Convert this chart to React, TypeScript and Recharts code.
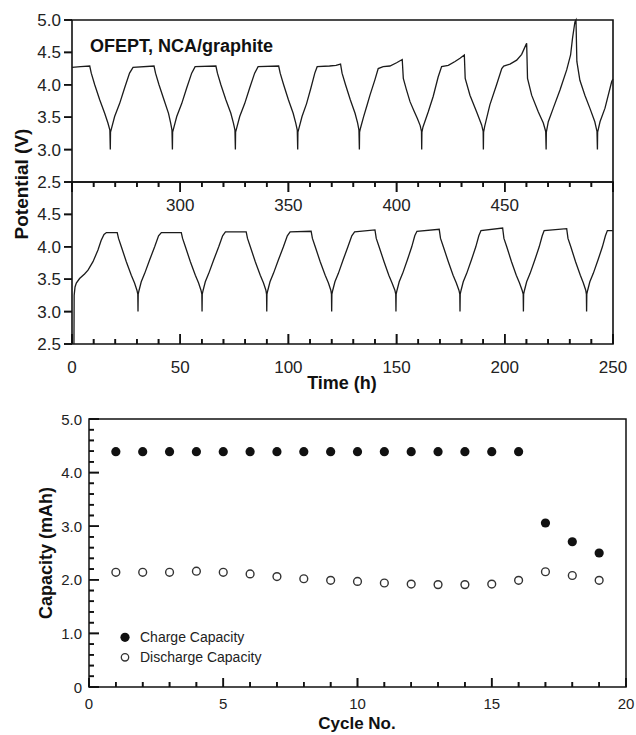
import React from 'react';
import { ComposedChart, Line, XAxis, YAxis, ScatterChart, Scatter, Legend, ReferenceArea } from 'recharts';

type Pt = [number, number];

const FONT = "'Liberation Sans', Arial, Helvetica, sans-serif";
const INK = '#111';
const TEXT = '#222';

// ---------- Upper potential panel (time 250-500 h) ----------
const upperCycle1: Pt[] = [[250, 4.27], [254, 4.28], [258.2, 4.29], [258.9, 4.18], [260.5, 4.0], [262.8, 3.77], [265.1, 3.56], [266.6, 3.41], [267.5, 3.3], [267.7, 3.0]];
const upperCycle2: Pt[] = [[267.8, 3.27], [268.2, 3.32], [269.7, 3.51], [272.0, 3.71], [274.3, 3.95], [276.6, 4.18], [278.2, 4.27], [287.9, 4.29], [288.6, 4.18], [290.2, 4.0], [292.5, 3.77], [294.6, 3.56], [295.6, 3.41], [296.2, 3.3], [296.4, 3.0]];
const upperCycle3: Pt[] = [[296.5, 3.27], [296.9, 3.32], [298.4, 3.51], [300.7, 3.71], [303.0, 3.95], [305.3, 4.18], [306.9, 4.28], [316.5, 4.29], [317.2, 4.18], [318.8, 4.0], [321.1, 3.77], [323.4, 3.56], [324.6, 3.41], [325.3, 3.3], [325.5, 3.0]];
const upperCycle4: Pt[] = [[325.6, 3.27], [326.0, 3.32], [327.5, 3.51], [329.8, 3.71], [332.1, 3.95], [334.4, 4.18], [336.0, 4.28], [345.5, 4.29], [346.2, 4.18], [347.8, 4.0], [350.0, 3.77], [352.2, 3.56], [353.4, 3.41], [354.1, 3.3], [354.3, 3.0]];
const upperCycle5: Pt[] = [[354.4, 3.27], [354.8, 3.32], [356.3, 3.51], [358.4, 3.71], [360.4, 3.95], [362.2, 4.18], [363.3, 4.28], [369.0, 4.29], [372.0, 4.3], [374.1, 4.32], [374.8, 4.18], [376.4, 4.0], [378.6, 3.77], [380.8, 3.56], [382.0, 3.41], [382.6, 3.3], [382.8, 3.0]];
const upperCycle6: Pt[] = [[382.9, 3.27], [383.3, 3.33], [384.7, 3.5], [386.3, 3.68], [387.7, 3.84], [390.0, 4.08], [391.5, 4.25], [393.8, 4.28], [396.9, 4.29], [400.0, 4.34], [402.6, 4.39], [403.1, 4.1], [404.5, 3.93], [406.2, 3.74], [408.0, 3.6], [409.6, 3.48], [410.9, 3.37], [411.5, 3.28], [411.6, 3.0]];
const upperCycle7: Pt[] = [[411.7, 3.27], [412.2, 3.35], [414.6, 3.58], [416.9, 3.82], [419.2, 4.12], [420.8, 4.28], [423.9, 4.3], [427.0, 4.36], [429.3, 4.41], [431.3, 4.46], [431.7, 4.1], [433.9, 3.84], [437.0, 3.58], [439.3, 3.38], [440.0, 3.28], [440.1, 3.0]];
const upperCycle8: Pt[] = [[440.2, 3.27], [440.7, 3.36], [443.1, 3.69], [446.2, 4.0], [448.6, 4.25], [449.5, 4.29], [452.4, 4.32], [455.5, 4.38], [457.8, 4.47], [459.8, 4.62], [460.1, 4.64], [460.5, 4.1], [462.4, 3.84], [465.5, 3.58], [467.8, 3.41], [468.9, 3.28], [469.1, 3.0]];
const upperCycle9: Pt[] = [[469.2, 3.27], [470.1, 3.43], [472.4, 3.64], [475.5, 3.92], [478.6, 4.23], [480.4, 4.46], [481.3, 4.72], [482.4, 4.97], [482.9, 5.0], [483.3, 4.36], [484.7, 4.07], [487.0, 3.84], [489.3, 3.64], [491.6, 3.43], [492.6, 3.28], [492.8, 3.0]];
const upperCycle10: Pt[] = [[492.9, 3.27], [494.0, 3.43], [496.3, 3.64], [499.4, 4.05], [500, 4.09]];

// ---------- Lower potential panel (time 0-250 h) ----------
const lowerCycle1: Pt[] = [[0.9, 2.5], [1.0, 3.25], [1.4, 3.38], [2.0, 3.44], [3.5, 3.51], [5.8, 3.58], [7.4, 3.64], [9.7, 3.77], [12.0, 3.95], [13.5, 4.1], [14.8, 4.19], [15.9, 4.22], [20.9, 4.22], [21.5, 4.13], [22.8, 4.0], [25.1, 3.77], [27.4, 3.56], [28.9, 3.44], [30.0, 3.33], [30.4, 3.27], [30.5, 3.0]];
const lowerCycle2: Pt[] = [[30.6, 3.27], [31.0, 3.33], [32.0, 3.46], [33.6, 3.59], [35.9, 3.8], [38.2, 4.0], [40.0, 4.17], [41.3, 4.22], [50.5, 4.22], [51.1, 4.13], [52.4, 4.0], [54.7, 3.77], [57.0, 3.56], [58.5, 3.44], [59.6, 3.33], [60.0, 3.27], [60.1, 3.0]];
const lowerCycle3: Pt[] = [[60.2, 3.27], [60.6, 3.33], [61.6, 3.46], [63.2, 3.59], [65.5, 3.8], [67.8, 4.0], [69.6, 4.17], [70.9, 4.23], [80.5, 4.23], [81.1, 4.13], [82.4, 4.0], [84.7, 3.77], [87.0, 3.56], [88.5, 3.44], [89.6, 3.33], [89.9, 3.27], [90.0, 3.0]];
const lowerCycle4: Pt[] = [[90.1, 3.27], [90.5, 3.33], [91.5, 3.46], [93.1, 3.59], [95.4, 3.8], [97.7, 4.0], [99.5, 4.17], [100.8, 4.23], [110.5, 4.24], [111.1, 4.13], [112.4, 4.0], [114.7, 3.77], [117.0, 3.56], [118.5, 3.44], [119.6, 3.33], [119.9, 3.27], [120.0, 3.0]];
const lowerCycle5: Pt[] = [[120.1, 3.27], [120.5, 3.33], [121.5, 3.46], [123.1, 3.59], [125.3, 3.8], [127.5, 4.0], [129.3, 4.17], [130.6, 4.23], [140.0, 4.26], [140.6, 4.13], [141.9, 4.0], [144.2, 3.77], [146.4, 3.56], [147.9, 3.44], [149.2, 3.33], [149.6, 3.27], [149.7, 3.0]];
const lowerCycle6: Pt[] = [[149.8, 3.27], [150.2, 3.33], [151.2, 3.46], [152.8, 3.59], [155.0, 3.8], [157.0, 4.0], [158.4, 4.17], [159.4, 4.24], [169.7, 4.27], [170.3, 4.13], [171.6, 4.0], [173.9, 3.77], [176.1, 3.56], [177.6, 3.44], [178.8, 3.33], [179.2, 3.27], [179.3, 3.0]];
const lowerCycle7: Pt[] = [[179.4, 3.27], [179.8, 3.33], [180.8, 3.46], [182.4, 3.59], [184.6, 3.8], [186.6, 4.0], [188.0, 4.17], [189.0, 4.25], [199.0, 4.29], [199.6, 4.13], [200.9, 4.0], [203.1, 3.77], [205.3, 3.56], [206.8, 3.44], [208.0, 3.33], [208.5, 3.27], [208.6, 3.0]];
const lowerCycle8: Pt[] = [[208.7, 3.27], [209.1, 3.33], [210.1, 3.46], [211.7, 3.59], [213.9, 3.8], [215.9, 4.0], [217.3, 4.17], [218.2, 4.25], [228.6, 4.28], [229.2, 4.13], [230.5, 4.0], [232.7, 3.77], [234.9, 3.56], [236.3, 3.44], [237.4, 3.33], [237.7, 3.27], [237.8, 3.0]];
const lowerCycle9: Pt[] = [[237.9, 3.27], [238.3, 3.33], [239.3, 3.46], [240.9, 3.59], [243.1, 3.8], [245.1, 4.0], [246.5, 4.17], [247.4, 4.25], [250, 4.25]];

// ---------- Capacity panel ----------
const cycles = [1, 2, 3, 4, 5, 6, 7, 8, 9, 10, 11, 12, 13, 14, 15, 16, 17, 18, 19];
const chargeCapacity = [4.39, 4.39, 4.39, 4.39, 4.39, 4.39, 4.39, 4.39, 4.39, 4.39, 4.39, 4.39, 4.39, 4.39, 4.39, 4.39, 3.06, 2.71, 2.5];
const dischargeCapacity = [2.14, 2.14, 2.14, 2.16, 2.14, 2.11, 2.06, 2.02, 1.99, 1.97, 1.94, 1.92, 1.91, 1.91, 1.92, 1.99, 2.15, 2.08, 1.99];

// ---------- Ticks ----------
const upperTimeTicks = [250, 260, 270, 280, 290, 300, 310, 320, 330, 340, 350, 360, 370, 380, 390, 400, 410, 420, 430, 440, 450, 460, 470, 480, 490, 500];
const upperTimeLabels = [300, 350, 400, 450];
const lowerTimeTicks = [0, 10, 20, 30, 40, 50, 60, 70, 80, 90, 100, 110, 120, 130, 140, 150, 160, 170, 180, 190, 200, 210, 220, 230, 240, 250];
const lowerTimeLabels = [0, 50, 100, 150, 200, 250];
const upperPotentialTicks = [2.5, 3.0, 3.5, 4.0, 4.5, 5.0];
const lowerPotentialTicks = [2.5, 3.0, 3.5, 4.0, 4.5];
const cycleTicks = [0, 1, 2, 3, 4, 5, 6, 7, 8, 9, 10, 11, 12, 13, 14, 15, 16, 17, 18, 19, 20];
const cycleLabels = [0, 5, 10, 15, 20];
const capacityTicks = [0, 0.2, 0.4, 0.6, 0.8, 1.0, 1.2, 1.4, 1.6, 1.8, 2.0, 2.2, 2.4, 2.6, 2.8, 3.0, 3.2, 3.4, 3.6, 3.8, 4.0, 4.2, 4.4, 4.6, 4.8, 5.0];
const capacityLabels = [0, 1, 2, 3, 4, 5];

const toRows = (segs: Pt[][]) => segs.flat().map(([t, v]) => ({ t, v }));
const upperSeries = toRows([upperCycle1, upperCycle2, upperCycle3, upperCycle4, upperCycle5, upperCycle6, upperCycle7, upperCycle8, upperCycle9, upperCycle10]);
const lowerSeries = toRows([lowerCycle1, lowerCycle2, lowerCycle3, lowerCycle4, lowerCycle5, lowerCycle6, lowerCycle7, lowerCycle8, lowerCycle9]);
const chargeRows = cycles.map((c, i) => ({ cycle: c, cap: chargeCapacity[i] }));
const dischargeRows = cycles.map((c, i) => ({ cycle: c, cap: dischargeCapacity[i] }));

// tick-mark positions (placed through the chart scales)
const isMultiple = (v: number, step: number) => Math.abs(v / step - Math.round(v / step)) < 1e-6;
const upperTimeMajorMarks = upperTimeTicks.filter((v) => isMultiple(v, 50)).map((t) => ({ t, v: 2.5 }));
const upperTimeMinorMarks = upperTimeTicks.filter((v) => !isMultiple(v, 50)).map((t) => ({ t, v: 2.5 }));
const lowerTimeMajorMarks = lowerTimeTicks.filter((v) => isMultiple(v, 50)).map((t) => ({ t, v: 2.5 }));
const lowerTimeMinorMarks = lowerTimeTicks.filter((v) => !isMultiple(v, 50)).map((t) => ({ t, v: 2.5 }));
const upperPotentialMarks = upperPotentialTicks.map((v) => ({ t: 250, v }));
const lowerPotentialMarks = lowerPotentialTicks.map((v) => ({ t: 0, v }));
const cycleMajorMarks = cycleTicks.filter((v) => cycleLabels.includes(v)).map((c) => ({ cycle: c, cap: 0 }));
const cycleMinorMarks = cycleTicks.filter((v) => !cycleLabels.includes(v)).map((c) => ({ cycle: c, cap: 0 }));
const capacityMajorMarks = capacityTicks.filter((v) => isMultiple(v, 1)).map((c) => ({ cycle: 0, cap: c }));
const capacityMinorMarks = capacityTicks.filter((v) => !isMultiple(v, 1)).map((c) => ({ cycle: 0, cap: c }));

// tick marks drawn as thin filled bars (vertical: dy>0 down, dy<0 up; horizontal: dx>0 right, dx<0 left)
const TW = 1.6;
const VBar = ({ x, y, len }: { x: number; y: number; len: number }) => (
  <rect x={Number(x) - TW / 2} y={len >= 0 ? Number(y) : Number(y) + len} width={TW} height={Math.abs(len)} fill={INK} />
);
const HBar = ({ x, y, len }: { x: number; y: number; len: number }) => (
  <rect x={len >= 0 ? Number(x) : Number(x) + len} y={Number(y) - TW / 2} width={Math.abs(len)} height={TW} fill={INK} />
);
const vMark = (len: number) => (p: any) => (p.cx == null || p.cy == null ? <g /> : <VBar x={p.cx} y={p.cy} len={len} />);
const hMark = (len: number) => (p: any) => (p.cx == null || p.cy == null ? <g /> : <HBar x={p.cx} y={p.cy} len={len} />);
const hangMajor = vMark(10);
const hangMinor = vMark(5);
const riseMajor = vMark(-10);
const riseMinor = vMark(-5);
const cycleRiseMajor = vMark(-9);
const outLeft = hMark(-8);
const inRightMajor = hMark(10);
const inRightMinor = hMark(5);

// ---------- Tick renderers ----------
function UpperTimeTick(props: any) {
  const { x, y, payload } = props;
  const v = payload.value as number;
  return (
    <g>
      <VBar x={x} y={y} len={isMultiple(v, 50) ? 10 : 5} />
      {upperTimeLabels.includes(v) && (
        <text x={x} y={Number(y) + 29} textAnchor="middle" fontSize={17} fontFamily={FONT} fill={TEXT}>{v}</text>
      )}
    </g>
  );
}

function LowerTimeTick(props: any) {
  const { x, y, payload } = props;
  const v = payload.value as number;
  return (
    <g>
      <VBar x={x} y={y} len={isMultiple(v, 50) ? -10 : -5} />
      {lowerTimeLabels.includes(v) && (
        <text x={x} y={Number(y) + 29} textAnchor="middle" fontSize={17} fontFamily={FONT} fill={TEXT}>{v}</text>
      )}
    </g>
  );
}

function PotentialTick(props: any) {
  const { x, y, payload } = props;
  const v = payload.value as number;
  return (
    <g>
      <HBar x={x} y={y} len={-8} />
      <text x={Number(x) - 11} y={Number(y) + 6} textAnchor="end" fontSize={17} fontFamily={FONT} fill={TEXT}>{v.toFixed(1)}</text>
    </g>
  );
}

function CycleTick(props: any) {
  const { x, y, payload } = props;
  const v = payload.value as number;
  const major = cycleLabels.includes(v);
  return (
    <g>
      <VBar x={x} y={y} len={major ? -9 : -5} />
      {major && (
        <text x={x} y={Number(y) + 22} textAnchor="middle" fontSize={15} fontFamily={FONT} fill={TEXT}>{v}</text>
      )}
    </g>
  );
}

function CapacityTick(props: any) {
  const { x, y, payload } = props;
  const v = payload.value as number;
  const major = isMultiple(v, 1);
  return (
    <g>
      <HBar x={x} y={y} len={major ? 10 : 5} />
      {major && (
        <text x={Number(x) - 7} y={Number(y) + 5.5} textAnchor="end" fontSize={15} fontFamily={FONT} fill={TEXT}>{Math.abs(v) < 1e-6 ? '0' : v.toFixed(1)}</text>
      )}
    </g>
  );
}

const CapacityLegend = () => (
  <svg width={200} height={42} style={{ display: 'block' }}>
    <circle cx={9} cy={9.3} r={4.6} fill="#111" />
    <text x={24} y={14.3} fontSize={14} fontFamily={FONT} fill={TEXT}>Charge Capacity</text>
    <circle cx={9} cy={29.3} r={3.7} fill="#fff" stroke="#333" strokeWidth={1.3} />
    <text x={24} y={34.3} fontSize={14} fontFamily={FONT} fill={TEXT}>Discharge Capacity</text>
  </svg>
);

const FilledDot = (p: any) => <circle cx={p.cx} cy={p.cy} r={4.6} fill="#111" />;
const OpenDot = (p: any) => <circle cx={p.cx} cy={p.cy} r={3.9} fill="#fff" stroke="#333" strokeWidth={1.4} />;

const titleStyle = { fontFamily: FONT, fontWeight: 'bold' as const, fill: '#111' };

export default function App() {
  return (
    <div style={{ position: 'absolute', left: 0, top: 0, width: 636, height: 735, background: '#fff' }}>
      {/* Lower panel: 0-250 h (page y 182-344) */}
      <div style={{ position: 'absolute', left: 0, top: 170 }}>
        <ComposedChart width={636} height={230} data={lowerSeries} margin={{ top: 12, right: 23, bottom: 16, left: 12 }}>
          <XAxis dataKey="t" type="number" domain={[0, 250]} ticks={lowerTimeTicks} interval={0} height={40}
            tick={LowerTimeTick} axisLine={false} tickSize={0} tickMargin={0} />
          <YAxis type="number" domain={[2.5, 5]} ticks={lowerPotentialTicks} interval={0} width={60}
            tick={PotentialTick} axisLine={false} tickSize={0} tickMargin={0} />
          <ReferenceArea x1={0} x2={250} y1={2.5} y2={5} fill="none" stroke={INK} strokeWidth={1.6} />
          <Line dataKey="v" type="linear" dot={false} stroke="#1b1b1b" strokeWidth={1.3} isAnimationActive={false} />
          <Scatter data={lowerTimeMajorMarks} dataKey="v" shape={riseMajor} legendType="none" isAnimationActive={false} />
          <Scatter data={lowerTimeMinorMarks} dataKey="v" shape={riseMinor} legendType="none" isAnimationActive={false} />
          <Scatter data={lowerPotentialMarks} dataKey="v" shape={outLeft} legendType="none" isAnimationActive={false} />
        </ComposedChart>
      </div>

      {/* Upper panel: 250-500 h (page y 20-182); its time scale hangs into the lower panel */}
      <div style={{ position: 'absolute', left: 0, top: 0 }}>
        <ComposedChart width={636} height={260} data={upperSeries} margin={{ top: 20, right: 23, bottom: 38, left: 12 }}>
          <XAxis dataKey="t" type="number" domain={[250, 500]} ticks={upperTimeTicks} interval={0} height={40}
            tick={UpperTimeTick} axisLine={false} tickSize={0} tickMargin={0} />
          <YAxis type="number" domain={[2.5, 5]} ticks={upperPotentialTicks} interval={0} width={60}
            tick={PotentialTick} axisLine={false} tickSize={0} tickMargin={0} />
          <ReferenceArea x1={250} x2={500} y1={2.5} y2={5} fill="none" stroke={INK} strokeWidth={1.6} />
          <Line dataKey="v" type="linear" dot={false} stroke="#1b1b1b" strokeWidth={1.3} isAnimationActive={false} />
          <Scatter data={upperTimeMajorMarks} dataKey="v" shape={hangMajor} legendType="none" isAnimationActive={false} />
          <Scatter data={upperTimeMinorMarks} dataKey="v" shape={hangMinor} legendType="none" isAnimationActive={false} />
          <Scatter data={upperPotentialMarks} dataKey="v" shape={outLeft} legendType="none" isAnimationActive={false} />
        </ComposedChart>
      </div>

      {/* Capacity panel */}
      <div style={{ position: 'absolute', left: 0, top: 400 }}>
        <ScatterChart width={636} height={335} margin={{ top: 19, right: 10, bottom: 18, left: 29 }}>
          <XAxis dataKey="cycle" type="number" domain={[0, 20]} ticks={cycleTicks} interval={0} height={30}
            tick={CycleTick} axisLine={false} tickSize={0} tickMargin={0} />
          <YAxis dataKey="cap" type="number" domain={[0, 5]} ticks={capacityTicks} interval={0} width={60}
            tick={CapacityTick} axisLine={false} tickSize={0} tickMargin={0} />
          <ReferenceArea x1={0} x2={20} y1={0} y2={5} fill="none" stroke={INK} strokeWidth={1.5} />
          <Legend layout="vertical" verticalAlign="middle" align="center" content={CapacityLegend}
            wrapperStyle={{ position: 'absolute', left: 116, top: 228, width: 200, height: 42 }} />
          <Scatter data={cycleMajorMarks} shape={cycleRiseMajor} legendType="none" isAnimationActive={false} />
          <Scatter data={cycleMinorMarks} shape={riseMinor} legendType="none" isAnimationActive={false} />
          <Scatter data={capacityMajorMarks} shape={inRightMajor} legendType="none" isAnimationActive={false} />
          <Scatter data={capacityMinorMarks} shape={inRightMinor} legendType="none" isAnimationActive={false} />
          <Scatter name="Charge Capacity" data={chargeRows} shape={FilledDot} isAnimationActive={false} />
          <Scatter name="Discharge Capacity" data={dischargeRows} shape={OpenDot} isAnimationActive={false} />
        </ScatterChart>
      </div>

      {/* Titles */}
      <svg width={636} height={735} style={{ position: 'absolute', left: 0, top: 0, pointerEvents: 'none' }}>
        <text x={90} y={51.5} fontSize={18} {...titleStyle}>OFEPT, NCA/graphite</text>
        <text x={21} y={184} transform="rotate(-90 21 184)" textAnchor="middle" dominantBaseline="central" fontSize={19} {...titleStyle}>Potential (V)</text>
        <text x={342} y={389} textAnchor="middle" fontSize={18} {...titleStyle}>Time (h)</text>
        <text x={357} y={729} textAnchor="middle" fontSize={17} {...titleStyle}>Cycle No.</text>
        <text x={45.5} y={553} transform="rotate(-90 45.5 553)" textAnchor="middle" dominantBaseline="central" fontSize={18} {...titleStyle}>Capacity (mAh)</text>
      </svg>
    </div>
  );
}
